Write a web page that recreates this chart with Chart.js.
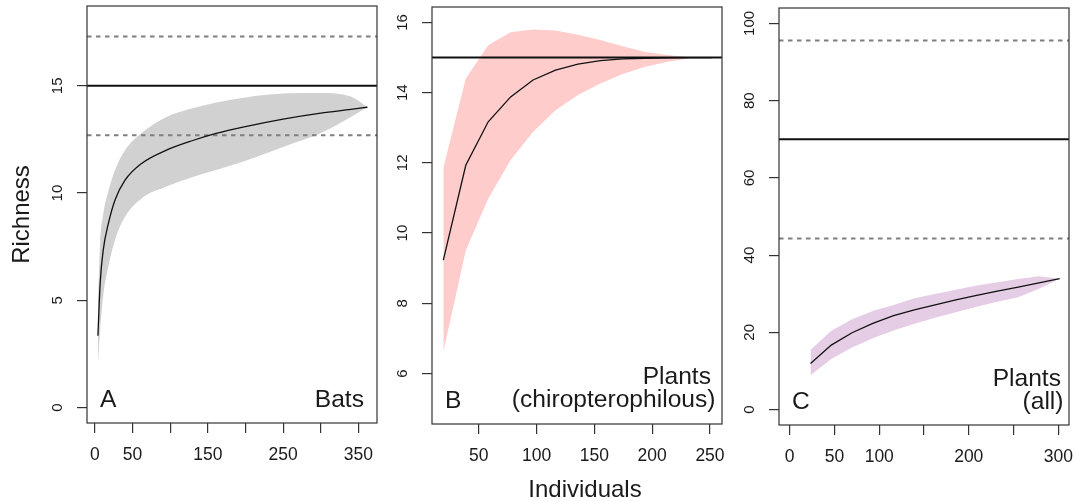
<!DOCTYPE html>
<html>
<head>
<meta charset="utf-8">
<script src="https://cdn.jsdelivr.net/npm/chart.js@4/dist/chart.umd.min.js"></script>
<style>
  html, body { margin: 0; padding: 0; background: #fff; }
  #wrap { position: relative; width: 1075px; height: 501px; }
  #wrap canvas { position: absolute; left: 0; top: 0; }
</style>
</head>
<body>
<div id="wrap">
  <canvas id="panelA" width="1075" height="501"></canvas>
  <canvas id="panelB" width="1075" height="501"></canvas>
  <canvas id="panelC" width="1075" height="501"></canvas>
</div>
<script>
// A: bats
const batsX = [4, 7, 11, 18, 27, 40, 62, 95, 130, 161, 200, 250, 300, 340, 362];
const batsMean = [3.35, 5.8, 7.33, 8.6, 9.7, 10.6, 11.38, 12.0, 12.45, 12.78, 13.1, 13.45, 13.73, 13.9, 14.0];
const batsLow = [2.05, 3.6, 5.2, 6.6, 7.85, 8.9, 9.75, 10.3, 10.75, 11.07, 11.5, 12.15, 12.8, 13.55, 14.0];
const batsHigh = [4.8, 7.7, 9.0, 10.1, 11.1, 12.0, 12.8, 13.55, 13.95, 14.22, 14.46, 14.64, 14.67, 14.5, 14.0];
const batsRefs = { solid: [15], dotted: [17.3, 12.7] };

// B: chiropterophilous plants
const chiroX = [19.4, 38.8, 58.2, 77.6, 97, 116.4, 135.8, 155.2, 174.6, 194, 213.4, 232.8, 252];
const chiroMean = [9.23, 11.93, 13.17, 13.88, 14.36, 14.64, 14.81, 14.91, 14.96, 14.98, 14.99, 15.0, 15.0];
const chiroLow = [6.62, 9.5, 10.98, 12.08, 12.88, 13.5, 13.93, 14.26, 14.53, 14.74, 14.88, 14.98, 15.0];
const chiroHigh = [11.86, 14.4, 15.35, 15.72, 15.8, 15.77, 15.65, 15.5, 15.32, 15.16, 15.07, 15.01, 15.0];
const chiroRefs = { solid: [15], dotted: [] };

// C: all plants
const plantsX = [23.2, 46.4, 69.6, 92.8, 116, 139.2, 162.4, 185.6, 208.8, 232, 255.2, 278.4, 301.6];
const plantsMean = [11.9, 16.7, 19.9, 22.3, 24.3, 25.8, 27.1, 28.4, 29.6, 30.7, 31.7, 32.8, 33.9];
const plantsLow = [8.9, 13.1, 16.1, 18.5, 20.5, 22.2, 23.8, 25.2, 26.6, 27.9, 29.1, 31.3, 33.9];
const plantsHigh = [15.4, 20.4, 23.4, 25.5, 27.1, 28.8, 29.9, 31.0, 32.1, 33.0, 33.8, 34.5, 33.9];
const plantsRefs = { solid: [70], dotted: [95.6, 44.3] };

// axis ticks, and the tick labels R actually printed
const batsXTicks = [0, 50, 100, 150, 200, 250, 300, 350];
const batsXLabels = [0, 50, 150, 250, 350];
const batsYTicks = [0, 5, 10, 15];
const chiroXTicks = [50, 100, 150, 200, 250];
const chiroXLabels = [50, 100, 150, 200, 250];
const chiroYTicks = [6, 8, 10, 12, 14, 16];
const plantsXTicks = [0, 50, 100, 150, 200, 250, 300];
const plantsXLabels = [0, 50, 100, 200, 300];
const plantsYTicks = [0, 20, 40, 60, 80, 100];

const FONT = '"Liberation Sans", Arial, Helvetica, sans-serif';
const INK = '#1a1a1a';

const rFrame = {
    id: 'rFrame',
    afterDraw(chart, args, opts) {
        const { ctx, chartArea: area } = chart;
        const ys = chart.scales.y;
        ctx.save();
        ctx.strokeStyle = '#333';
        ctx.lineWidth = 1.2;
        ctx.strokeRect(area.left, area.top, area.right - area.left, area.bottom - area.top);

        // y tick labels, parallel to the axis like R
        ctx.fillStyle = INK;
        ctx.font = `15px ${FONT}`;
        ctx.textAlign = 'center';
        ctx.textBaseline = 'alphabetic';
        ys.ticks.forEach((t) => {
            ctx.save();
            ctx.translate(area.left - 25, ys.getPixelForValue(t.value));
            ctx.rotate(-Math.PI / 2);
            ctx.fillText(String(t.value), 0, 0);
            ctx.restore();
        });

        ctx.font = `24.6px ${FONT}`;
        ctx.textAlign = 'left';
        ctx.fillText(opts.letter, area.left + 13, area.bottom - 16);
        ctx.textAlign = 'right';
        opts.lines.forEach((l) => ctx.fillText(l.text, area.right - l.dx, area.bottom - l.dy));

        // shared x title sits a bit right of panel B's centre
        if (opts.xTitle) {
            ctx.textAlign = 'center';
            ctx.font = `24px ${FONT}`;
            ctx.fillText(opts.xTitle, (area.left + area.right) / 2 + 8, 497);
        }
        ctx.restore();
    },
};

function refSet(values, xmin, xmax, dotted) {
    return values.map((v) => ({
        data: [{ x: xmin, y: v }, { x: xmax, y: v }],
        borderColor: dotted ? '#7f7f7f' : '#111',
        borderWidth: 2,
        borderDash: dotted ? [4.5, 4.5] : [],
        pointRadius: 0,
        fill: false,
        order: 2,
    }));
}

function makePanel(id, p) {
    const pts = (ys) => p.xs.map((x, i) => ({ x, y: ys[i] }));
    const curve = p.smooth ? { cubicInterpolationMode: 'monotone' } : { tension: 0 };
    const yw = p.yTitle ? 87 : 40;
    const axisGrid = { drawOnChartArea: false, drawTicks: true, tickLength: 10, color: '#333', lineWidth: 1.2 };

    return new Chart(document.getElementById(id), {
        type: 'line',
        data: {
            datasets: [
                { data: pts(p.high), borderWidth: 0, pointRadius: 0, backgroundColor: p.band, fill: '+1', order: 3, ...curve },
                { data: pts(p.low), borderWidth: 0, pointRadius: 0, fill: false, order: 3, ...curve },
                { data: pts(p.mean), borderColor: '#111', borderWidth: 1.3, pointRadius: 0, fill: false, order: 1, ...curve },
                ...refSet(p.refs.solid, p.xMin, p.xMax, false),
                ...refSet(p.refs.dotted, p.xMin, p.xMax, true),
            ],
        },
        options: {
            responsive: false,
            animation: false,
            layout: {
                padding: { left: p.box.left - yw, right: 1075 - p.box.right, top: p.box.top, bottom: 0 },
            },
            plugins: {
                legend: { display: false },
                tooltip: { enabled: false },
                rFrame: { letter: p.letter, lines: p.lines, xTitle: p.xTitle },
            },
            scales: {
                x: {
                    type: 'linear',
                    min: p.xMin,
                    max: p.xMax,
                    afterBuildTicks: (s) => { s.ticks = p.xTicks.map((value) => ({ value })); },
                    afterFit: (s) => {
                        s.height = 501 - p.box.bottom;
                        s.paddingLeft = 0;
                        s.paddingRight = 0;
                    },
                    border: { display: false },
                    grid: axisGrid,
                    ticks: {
                        autoSkip: false,
                        maxRotation: 0,
                        padding: 12,
                        color: INK,
                        font: { family: FONT, size: 17.5 },
                        callback: (v) => (p.xLabels.includes(v) ? String(v) : ''),
                    },
                },
                y: {
                    min: p.yMin,
                    max: p.yMax,
                    afterBuildTicks: (s) => { s.ticks = p.yTicks.map((value) => ({ value })); },
                    afterFit: (s) => {
                        s.width = yw;
                        s.paddingTop = 0;
                        s.paddingBottom = 0;
                    },
                    border: { display: false },
                    grid: axisGrid,
                    ticks: { display: false },
                    title: {
                        display: !!p.yTitle,
                        text: p.yTitle || '',
                        color: INK,
                        font: { family: FONT, size: 24, lineHeight: 1.2 },
                        padding: { top: 8, bottom: 0 },
                    },
                },
            },
        },
        plugins: [rFrame],
    });
}

makePanel('panelA', {
    xs: batsX, mean: batsMean, low: batsLow, high: batsHigh, refs: batsRefs,
    band: 'rgb(209,209,209)', smooth: true,
    box: { left: 87, right: 377, top: 6, bottom: 423 },
    xMin: -10.5, xMax: 374.7, yMin: -0.72, yMax: 18.72,
    xTicks: batsXTicks, xLabels: batsXLabels, yTicks: batsYTicks, yTitle: 'Richness',
    letter: 'A', lines: [{ text: 'Bats', dx: 13, dy: 16 }],
});

makePanel('panelB', {
    xs: chiroX, mean: chiroMean, low: chiroLow, high: chiroHigh, refs: chiroRefs,
    band: 'rgb(255,204,204)', smooth: false,
    box: { left: 432, right: 722, top: 7, bottom: 424 },
    xMin: 9.6, xMax: 260.4, yMin: 4.56, yMax: 16.44,
    xTicks: chiroXTicks, xLabels: chiroXLabels, yTicks: chiroYTicks, xTitle: 'Individuals',
    letter: 'B', lines: [{ text: 'Plants', dx: 11, dy: 40 }, { text: '(chiropterophilous)', dx: 6.5, dy: 17 }],
});

makePanel('panelC', {
    xs: plantsX, mean: plantsMean, low: plantsLow, high: plantsHigh, refs: plantsRefs,
    band: 'rgb(230,205,230)', smooth: false,
    box: { left: 779, right: 1069, top: 8, bottom: 425 },
    xMin: -12, xMax: 312, yMin: -4, yMax: 104,
    xTicks: plantsXTicks, xLabels: plantsXLabels, yTicks: plantsYTicks,
    letter: 'C', lines: [{ text: 'Plants', dx: 8, dy: 39 }, { text: '(all)', dx: 5.5, dy: 16 }],
});
</script>
</body>
</html>
